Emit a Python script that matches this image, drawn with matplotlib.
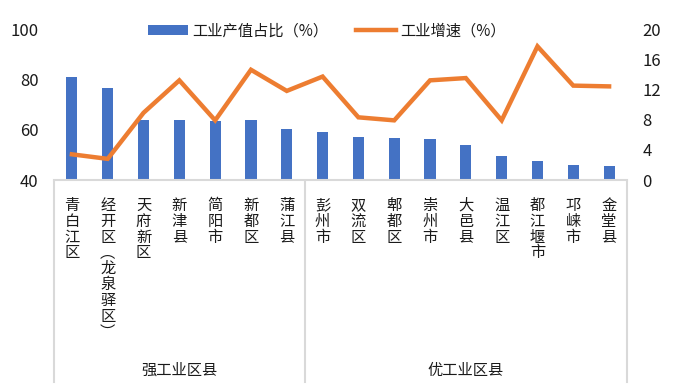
import numpy as np
import matplotlib
matplotlib.use('Agg')
import matplotlib.pyplot as plt
from matplotlib.lines import Line2D
from matplotlib.patches import Patch
import matplotlib.transforms as mtransforms

plt.rcParams['font.family'] = ['Noto Sans CJK SC', 'DejaVu Sans']

# data
districts = ['青白江区', '经开区︵龙泉驿区︶', '天府新区', '新津县', '简阳市', '新都区', '蒲江县',
             '彭州市', '双流区', '郫都区', '崇州市', '大邑县', '温江区', '都江堰市', '邛崃市', '金堂县']
share = [80.9, 76.5, 63.8, 63.8, 63.4, 63.7, 60.3,
         59.1, 57.1, 56.8, 56.2, 53.9, 49.7, 47.4, 46.1, 45.7]
growth = [3.4, 2.8, 8.9, 13.2, 7.9, 14.6, 11.8,
          13.7, 8.3, 7.9, 13.2, 13.5, 7.9, 17.7, 12.5, 12.4]
groups = ['强工业区县', '优工业区县']
group_sizes = [7, 9]

blue = '#4472C4'
orange = '#ED7D31'
grid_gray = '#D9D9D9'
txt = '#1a1a1a'

W, H = 678, 391
fig = plt.figure(figsize=(W / 100, H / 100), dpi=100)
ax = fig.add_axes([54 / W, (H - 180) / H, 573 / W, 151 / H])
ax2 = ax.twinx()

x = np.arange(len(districts))
ax.bar(x, share, width=0.31, color=blue, zorder=2)
ax2.plot(x, growth, color=orange, lw=3.2, solid_joinstyle='miter', zorder=3)

ax.set_xlim(-0.5, len(districts) - 0.5)
ax.set_ylim(40, 100)
ax.set_yticks([40, 60, 80, 100])
ax2.set_ylim(0, 20)
ax2.set_yticks([0, 4, 8, 12, 16, 20])
ax.set_xticks([])

for a in (ax, ax2):
    for s in a.spines.values():
        s.set_visible(False)
    a.tick_params(axis='y', length=0, labelsize=12, colors=txt, pad=11)
ax.spines['bottom'].set_visible(True)
ax.spines['bottom'].set_color(grid_gray)
ax.spines['bottom'].set_linewidth(1.5)

# category labels, vertical stacked characters
trans = mtransforms.blended_transform_factory(ax.transData, fig.transFigure)
top_px = 197
pitch = 15.8
for xi, name in zip(x, districts):
    for j, ch in enumerate(name):
        yp = top_px + j * pitch
        ax.text(xi, (H - yp) / H, ch, transform=trans, ha='center', va='top',
                fontsize=11, color=txt, clip_on=False)

# group box lines
bounds = np.concatenate([[0], np.cumsum(group_sizes)]) - 0.5
for b in bounds:
    fig.add_artist(Line2D([b, b], [(H - 181) / H, (H - 382) / H], transform=trans,
                          color=grid_gray, lw=1.5))
for g, lo, hi in zip(groups, bounds[:-1], bounds[1:]):
    ax.text((lo + hi) / 2, (H - 370) / H, g, transform=trans, ha='center', va='center',
            fontsize=11, color=txt, clip_on=False)

handles = [Patch(facecolor=blue, edgecolor='none'),
           Line2D([0], [0], color=orange, lw=3.2)]
fig.legend(handles, ['工业产值占比（%）', '工业增速（%）'], loc='center',
           bbox_to_anchor=(327 / W, 1 - 31 / H), ncol=2, frameon=False, fontsize=11,
           handlelength=2.6, handleheight=0.55, handletextpad=0.3, columnspacing=1.8,
           labelcolor=txt)

fig.savefig('out.png', dpi=100, facecolor='white')
